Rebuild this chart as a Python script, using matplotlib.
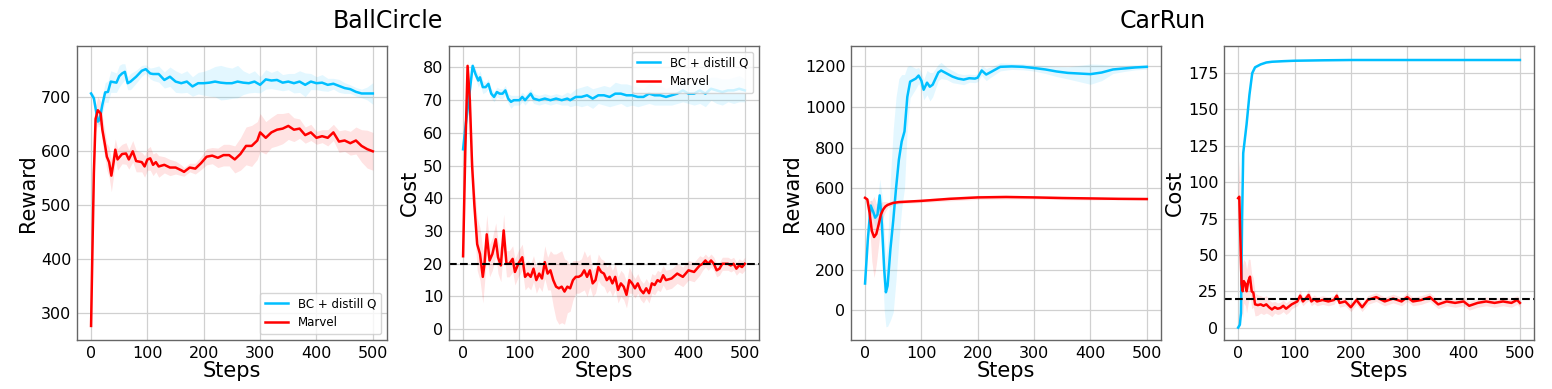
import numpy as np
import matplotlib
matplotlib.use("Agg")
import matplotlib.pyplot as plt

BLUE = "#00bfff"
RED = "#ff0000"

# ---- BallCircle reward ----
bc_rew_bc_x = [0, 5, 12, 15, 20, 25, 30, 35, 45, 50, 55, 60, 65, 70, 80, 90, 97, 105, 110,
               120, 130, 140, 150, 160, 170, 180, 190, 200, 210, 220, 230, 240, 250, 260, 270,
               280, 290, 300, 310, 320, 330, 340, 350, 360, 370, 380, 390, 400, 410, 420, 430,
               440, 450, 460, 470, 480, 490, 500]
bc_rew_bc_y = [707, 698, 655, 658, 686, 709, 710, 729, 727, 739, 744, 747, 726, 729, 738, 749, 752, 744, 743,
               743, 732, 738, 729, 726, 729, 720, 726, 726, 727, 729, 727, 726, 726, 729, 727,
               726, 729, 723, 733, 731, 732, 727, 729, 726, 729, 723, 729, 726, 727, 723, 725,
               721, 717, 715, 710, 707, 707, 707]
bc_rew_bc_err = [3, 8, 10, 12, 15, 18, 20, 20, 18, 20, 18, 15, 12, 15, 12, 10, 8, 10, 12,
                 15, 15, 18, 20, 18, 20, 18, 20, 22, 25, 28, 32, 30, 28, 30, 22,
                 18, 20, 15, 18, 15, 18, 15, 15, 18, 20, 22, 15, 12, 15, 12, 10,
                 12, 10, 8, 8, 8, 12, 20]

bc_rew_mv_x = [0, 3, 5, 8, 12, 17, 20, 25, 28, 32, 36, 40, 43, 47, 55, 62, 67, 74, 80,
               90, 95, 100, 105, 110, 115, 120, 130, 140, 150, 160, 165, 175, 185, 195, 205,
               215, 225, 235, 245, 255, 265, 275, 285, 295, 300, 310, 320, 330, 340, 350,
               360, 370, 380, 390, 400, 410, 420, 430, 440, 450, 460, 470, 480, 490, 500]
bc_rew_mv_y = [277, 450, 560, 660, 676, 670, 640, 610, 590, 580, 555, 580, 603, 585, 595, 596, 585, 600, 582,
               580, 572, 585, 587, 575, 580, 572, 575, 570, 570, 565, 562, 570, 568, 578, 590,
               592, 588, 593, 593, 585, 595, 610, 610, 620, 635, 625, 635, 640, 642, 647,
               640, 642, 630, 635, 625, 628, 625, 635, 618, 620, 615, 620, 610, 604, 600]
bc_rew_mv_err = [0, 10, 20, 25, 25, 22, 25, 25, 25, 28, 30, 25, 20, 20, 18, 20, 18, 20, 20,
                 18, 20, 20, 22, 20, 18, 20, 15, 15, 12, 10, 8, 8, 10, 12, 15,
                 15, 18, 20, 20, 25, 30, 35, 38, 35, 35, 30, 28, 30, 28, 25,
                 22, 18, 15, 15, 12, 12, 15, 15, 20, 20, 22, 25, 30, 35, 35]

# ---- BallCircle cost ----
bc_cost_bc_x = [0, 5, 10, 17, 22, 27, 30, 35, 40, 45, 50, 55, 60, 65, 70, 75, 80, 85, 90,
                100, 105, 110, 120, 125, 135, 145, 155, 165, 175, 185, 190,
                200, 210, 220, 230, 240, 250, 260, 270, 280, 290, 300, 310, 320, 330, 340,
                350, 360, 370, 380, 390, 400, 410, 420, 430, 440, 450, 460, 470, 480, 490, 500]
bc_cost_bc_y = [55, 63, 70, 80.5, 78, 76, 77, 74, 74, 75, 72, 71, 72.5, 72, 72, 73, 70.5, 69.5, 70,
                70, 71, 70, 72, 70.5, 70, 70.5, 70, 70.5, 70, 70.5, 70,
                71, 71, 71.5, 70.5, 71.5, 71.5, 71, 72, 72, 71.5, 71.5, 71, 71, 72, 71.5,
                71.5, 71, 71.5, 72, 73, 72, 72, 73, 72, 73.5, 73, 72.5, 73, 73, 73.5, 73]
bc_cost_bc_err = [1, 2, 2, 1, 1.5, 2, 2, 2, 1.5, 1.5, 1.5, 1.5, 1.5, 1.5, 1.5, 1.5, 1.5, 2, 1.5,
                  1.5, 1.5, 1.5, 1.5, 1.5, 1.5, 1.5, 1.5, 1.5, 1.5, 2, 2,
                  2.5, 3, 3, 3, 2.5, 3, 3, 3.5, 3, 3.5, 3, 3, 2.5, 3, 3,
                  3, 2.5, 3, 3, 3.5, 3, 3.5, 4, 4, 3.5, 4, 4, 3.5, 4, 4, 3.5]

bc_cost_mv_x = [0, 4, 8, 12, 16, 20, 25, 30, 35, 38, 42, 47, 52, 58, 62, 67, 72, 77, 82, 88,
                92, 98, 105, 110, 115, 120, 125, 130, 135, 140,
                145, 150, 155, 160, 165, 170, 175, 180, 185, 190, 195, 200, 205, 210, 215,
                220, 225, 230, 235, 240, 245, 250, 255, 260, 265, 270, 275, 280, 285, 290,
                295, 300, 305, 310, 315, 320, 325, 330, 335, 340, 345, 350, 355, 360,
                370, 380, 390, 400, 410, 420, 425, 430, 435, 440, 445, 450, 455, 460,
                470, 475, 480, 485, 490, 495, 500]
bc_cost_mv_y = [22.3, 55, 80.5, 70, 50, 38, 26, 23, 16, 20, 29, 21, 23, 27.5, 22, 19.5, 30.2, 20, 20, 21.5,
                17.5, 20, 22, 16, 17, 16, 18.5, 15, 17, 15.5,
                20.5, 17, 18, 15, 13, 12.5, 13, 11.5, 13, 12.5, 15, 16, 16, 16.5, 18,
                16, 18, 14, 15, 19, 17.5, 17, 15, 16, 14, 16, 12, 14, 13, 10.5,
                15, 14, 12.5, 14, 12, 11, 12.5, 11, 14, 13.5, 15, 14.5, 16.5, 15,
                15.5, 17, 16, 18, 17.5, 19.5, 20, 21, 20, 21, 20, 18, 18.5, 20,
                20, 19.5, 20, 18.5, 19.5, 19, 20]
bc_cost_mv_err = [1, 2, 2, 3, 5, 6, 8, 8, 8, 6, 6, 5, 5, 5, 5, 5, 5, 4, 4, 4,
                  4, 4, 4, 4, 4, 4, 4, 4, 4, 4,
                  5, 5, 6, 8, 10, 11, 11, 10, 8, 7, 6, 5, 5, 5, 6,
                  6, 5, 4, 4, 4, 4, 4, 4, 4, 4, 4, 4, 4, 4, 4,
                  4, 3, 3, 3, 3, 3, 3, 3, 3, 3, 3, 3, 3, 3,
                  3, 3, 3, 3, 3, 3, 2, 2, 2, 2, 2, 2, 2, 2,
                  2, 2, 2, 2, 2, 2, 2]

# ---- CarRun reward ----
cr_rew_bc_x = [0, 5, 10, 15, 18, 22, 26, 30, 34, 37, 40, 45, 50, 55, 60, 65, 70, 75, 80, 90,
               95, 100, 104, 110, 115, 120, 130, 135, 145, 155, 165, 175, 185, 195, 200, 207,
               215, 225, 240, 260, 280, 300, 320, 340, 360, 380, 400, 420, 440, 460, 480, 500]
cr_rew_bc_y = [131, 350, 515, 480, 455, 470, 565, 420, 200, 88, 120, 300, 440, 600, 740, 830, 880, 1050, 1125, 1140,
               1155, 1130, 1085, 1120, 1100, 1110, 1170, 1180, 1165, 1150, 1140, 1135, 1142, 1140, 1145, 1180,
               1160, 1175, 1198, 1200, 1198, 1192, 1185, 1175, 1168, 1165, 1162, 1170, 1185, 1190, 1195, 1198]
cr_rew_bc_err = [0, 20, 30, 40, 40, 60, 80, 150, 200, 170, 200, 350, 450, 450, 400, 330, 280, 150, 80, 50,
                 40, 40, 50, 60, 70, 60, 40, 40, 30, 30, 25, 25, 20, 20, 20, 25,
                 30, 25, 20, 15, 15, 15, 20, 25, 30, 40, 50, 40, 20, 15, 12, 12]

cr_rew_mv_x = [0, 4, 8, 12, 16, 20, 24, 28, 32, 36, 40, 50, 60, 80, 100, 150, 200, 250, 300, 350, 400, 450, 500]
cr_rew_mv_y = [553, 545, 480, 390, 360, 375, 420, 470, 495, 510, 518, 528, 532, 535, 538, 548, 555, 557, 555, 552, 550, 548, 547]
cr_rew_mv_err = [0, 10, 60, 150, 200, 150, 100, 60, 40, 25, 15, 10, 8, 8, 8, 10, 10, 10, 8, 8, 8, 5, 5]

# ---- CarRun cost ----
cr_cost_bc_x = [0, 3, 5, 6, 7, 9, 15, 20, 25, 30, 40, 50, 60, 80, 100, 150, 200, 300, 400, 500]
cr_cost_bc_y = [0, 2, 10, 40, 75, 120, 140, 160, 175, 179, 181, 182.3, 182.8, 183.2, 183.5, 183.8, 184, 184, 184, 184]
cr_cost_bc_err = [0, 1, 2, 2, 2, 2, 2, 2, 1.5, 1, 0.5, 0.5, 0.5, 0.5, 0.3, 0.3, 0.3, 0.3, 0.3, 0.3]

cr_cost_mv_x = [0, 2, 4, 6, 8, 10, 13, 15, 18, 21, 24, 27, 30, 35, 40, 45, 50, 55, 60, 65,
                70, 75, 80, 85, 90, 95, 100, 105, 110, 115, 120, 125, 130, 135, 140, 150, 160, 170, 175, 180,
                190, 200, 210, 220, 230, 245, 260, 275, 290, 300, 310, 325, 340, 355, 370, 385, 400, 410, 425, 440,
                455, 470, 485, 495, 500]
cr_cost_mv_y = [89, 90, 60, 30, 25, 32, 30, 25, 32, 35, 25, 24, 16, 15.5, 16, 15, 16, 14, 12.5, 14,
                13, 13.5, 15, 13, 14.5, 16, 17, 18, 22, 18, 20, 22.5, 18, 19.5, 18, 19, 18, 19, 22, 17,
                18, 14, 19, 14, 19, 21, 18, 20, 18, 21, 18, 19, 21, 16, 18, 17, 18, 15, 17, 18,
                17, 18, 17, 19, 17]
cr_cost_mv_err = [5, 25, 25, 20, 18, 15, 15, 15, 15, 12, 12, 10, 8, 7, 6, 6, 6, 5, 5, 4,
                  4, 4, 4, 4, 4, 3, 3, 3, 4, 3, 3, 4, 3, 3, 3, 3, 3, 3, 3, 3,
                  3, 3, 3, 3, 3, 3, 3, 3, 3, 3, 3, 3, 3, 3, 3, 3, 3, 3, 3, 3,
                  3, 3, 3, 3, 3]

cost_limit = 20


def draw_curve(ax, x, y, err, color, label):
    x = np.array(x)
    y = np.array(y)
    err = np.array(err)
    ax.fill_between(x, y - err, y + err, color=color, alpha=0.11, linewidth=0)
    ax.plot(x, y, color=color, linewidth=1.8, label=label)


def style_axes(ax, ylabel, ylim):
    ax.set_xlim(-25, 525)
    ax.set_ylim(*ylim)
    ax.set_xticks([0, 100, 200, 300, 400, 500])
    ax.grid(True, color="#d0d0d0", linewidth=0.9)
    ax.set_axisbelow(True)
    ax.tick_params(length=0, labelsize=11.5, pad=4)
    for s in ax.spines.values():
        s.set_color("#666666")
        s.set_linewidth(1.0)
    ax.set_xlabel("Steps", fontsize=15, labelpad=0)
    ax.set_ylabel(ylabel, fontsize=15, labelpad=2)


fig = plt.figure(figsize=(15.52, 3.89), dpi=100)
w, h, b = 0.1997, 0.756, 0.126
ax1 = fig.add_axes([0.0496, b, w, h])
ax2 = fig.add_axes([0.2893, b, w, h])
ax3 = fig.add_axes([0.5483, b, w, h])
ax4 = fig.add_axes([0.7887, b, w, h])

draw_curve(ax1, bc_rew_bc_x, bc_rew_bc_y, bc_rew_bc_err, BLUE, "BC + distill Q")
draw_curve(ax1, bc_rew_mv_x, bc_rew_mv_y, bc_rew_mv_err, RED, "Marvel")
style_axes(ax1, "Reward", (251, 795))
ax1.set_yticks([300, 400, 500, 600, 700])
ax1.legend(loc="lower right", fontsize=8.5)

draw_curve(ax2, bc_cost_bc_x, bc_cost_bc_y, bc_cost_bc_err, BLUE, "BC + distill Q")
draw_curve(ax2, bc_cost_mv_x, bc_cost_mv_y, bc_cost_mv_err, RED, "Marvel")
ax2.axhline(cost_limit, color="black", linestyle="--", linewidth=1.5)
style_axes(ax2, "Cost", (-3.3, 86.6))
ax2.set_yticks([0, 10, 20, 30, 40, 50, 60, 70, 80])
ax2.legend(loc="upper right", fontsize=8.5)

draw_curve(ax3, cr_rew_bc_x, cr_rew_bc_y, cr_rew_bc_err, BLUE, "BC + distill Q")
draw_curve(ax3, cr_rew_mv_x, cr_rew_mv_y, cr_rew_mv_err, RED, "Marvel")
style_axes(ax3, "Reward", (-147, 1301))
ax3.set_yticks([0, 200, 400, 600, 800, 1000, 1200])

draw_curve(ax4, cr_cost_bc_x, cr_cost_bc_y, cr_cost_bc_err, BLUE, "BC + distill Q")
draw_curve(ax4, cr_cost_mv_x, cr_cost_mv_y, cr_cost_mv_err, RED, "Marvel")
ax4.axhline(cost_limit, color="black", linestyle="--", linewidth=1.5)
style_axes(ax4, "Cost", (-8.5, 193.7))
ax4.set_yticks([0, 25, 50, 75, 100, 125, 150, 175])

fig.text(0.25, 0.945, "BallCircle", ha="center", va="center", fontsize=17)
fig.text(0.749, 0.945, "CarRun", ha="center", va="center", fontsize=17)

fig.savefig("out.png", dpi=100)
